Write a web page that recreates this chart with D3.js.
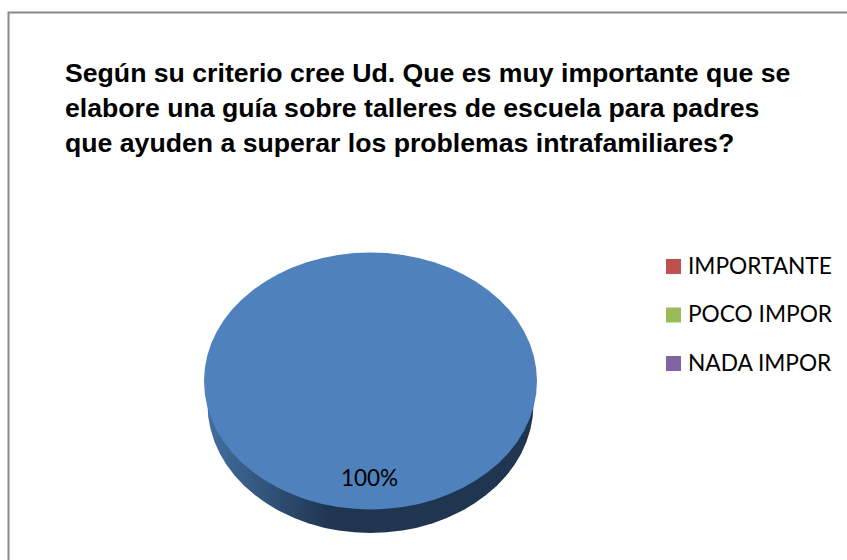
<!DOCTYPE html>
<html>
<head>
<meta charset="utf-8">
<script src="https://cdnjs.cloudflare.com/ajax/libs/d3/7.8.5/d3.min.js"></script>
<style>
  html, body { margin: 0; padding: 0; background: #fff; }
  svg { display: block; }
</style>
</head>
<body>
<div id="chart"></div>
<script>
const titleLines = [
  'Según su criterio cree Ud. Que es muy importante que se',
  'elabore una guía sobre talleres de escuela para padres',
  'que ayuden a superar los problemas intrafamiliares?'
]
// first slice has no legend entry in the picture
const sliceValues = [100, 0, 0, 0]
const legendLabels = ['IMPORTANTE', 'POCO IMPOR', 'NADA IMPOR']
const sliceColors = ['#4f81bd', '#c0504d', '#9bbb59', '#8064a2']

const width = 847
const height = 560
const rx = 166.5
const ry = 128.5

const svg = d3
  .select('#chart')
  .append('svg')
  .attr('width', width)
  .attr('height', height)

// frame runs off the right and bottom of the picture
svg
  .append('path')
  .attr('d', 'M8.5,560V12.5H847')
  .attr('fill', 'none')
  .attr('stroke', '#888')
  .attr('stroke-width', 2)

svg
  .append('g')
  .selectAll('text')
  .data(titleLines)
  .enter()
  .append('text')
  .attr('x', 65)
  .attr('y', (d, i) => 82.3 + i * 35)
  .attr('font-family', 'Liberation Sans')
  .attr('font-weight', 'bold')
  .attr('font-size', 26.65)
  .attr('fill', '#000')
  .text(d => d)

const defs = svg.append('defs')
const sideGradient = defs
  .append('linearGradient')
  .attr('id', 'side')
  .attr('x1', '0%')
  .attr('x2', '100%')
sideGradient.append('stop').attr('offset', '0%').attr('stop-color', '#426f9f')
sideGradient.append('stop').attr('offset', '38%').attr('stop-color', '#1f3550')
sideGradient.append('stop').attr('offset', '100%').attr('stop-color', '#1f3550')

const pie = d3.pie().sort(null)
const arcs = pie(sliceValues)
const arc = d3.arc().innerRadius(0).outerRadius(1)

// side wall, a slightly narrower disc pushed down under the top face
svg
  .append('path')
  .attr('transform', 'translate(370.5,404.5) scale(163,128.5)')
  .attr('d', arc(arcs[0]))
  .attr('fill', 'url(#side)')

svg
  .append('g')
  .attr('transform', 'translate(370.5,381) scale(' + rx + ',' + ry + ')')
  .selectAll('path')
  .data(arcs)
  .enter()
  .append('path')
  .attr('d', arc)
  .attr('fill', (d, i) => sliceColors[i])

svg
  .append('text')
  .attr('x', 369.5)
  .attr('y', 486)
  .attr('text-anchor', 'middle')
  .attr('font-family', 'Lato')
  .attr('font-size', 22.5)
  .attr('fill', '#000')
  .text(sliceValues[0] + '%')

const legendY = d3.scalePoint().domain(legendLabels).range([266.5, 363.5])

const legend = svg
  .append('g')
  .selectAll('g')
  .data(legendLabels)
  .enter()
  .append('g')
  .attr('transform', d => 'translate(666,' + legendY(d) + ')')

legend
  .append('rect')
  .attr('y', -7.5)
  .attr('width', 15)
  .attr('height', 15)
  .attr('fill', (d, i) => sliceColors[i + 1])

legend
  .append('text')
  .attr('x', 22)
  .attr('y', 7)
  .attr('font-family', 'Lato')
  .attr('font-size', 22.7)
  .attr('fill', '#000')
  .text(d => d)
</script>
</body>
</html>
